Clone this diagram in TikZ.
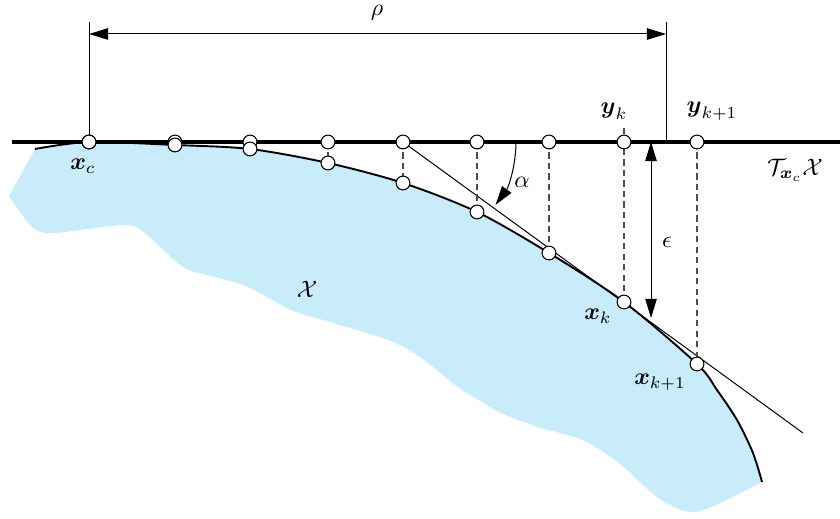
\documentclass[tikz,border=0pt]{standalone}
\usepackage{amsmath}
\usepackage{amssymb}
\usetikzlibrary{arrows.meta,backgrounds}

\definecolor{setblue}{RGB}{200,236,250}

\begin{document}
\begin{tikzpicture}[x=0.42pt,y=-0.42pt,
  pnt/.style={circle,draw=black,fill=white,line width=0.45pt,inner sep=0pt,minimum size=5.8pt},
  proj/.style={draw=black!70,dash pattern=on 2.6pt off 1.8pt,line width=0.45pt},
  rim/.style={draw=black,line width=0.8pt},
  tangline/.style={draw=black,line width=1.8pt},
  thinline/.style={draw=black,line width=0.42pt},
  dimtip/.style={{Triangle[length=8pt,width=4.8pt]}-{Triangle[length=8pt,width=4.8pt]}},
  endtip/.style={-{Triangle[length=8pt,width=4.8pt]}}]
\useasboundingbox (0,0) rectangle (840,519);
% samples on the tangent space
\foreach \n/\x in {1/89,2/175,3/250,4/328,5/403,6/477,7/549,8/624,9/697}
  \node[pnt] (t\n) at (\x,142) {};
% samples on the set
\foreach \n/\x/\y in {2/175/145,3/250/149,4/328/163,5/403/183,6/477/212,7/549/253,8/624/302,9/697/364}
  \node[pnt] (c\n) at (\x,\y) {};
\coordinate (c1) at (89,142);
% helper points
\coordinate (tl) at (12,142);
\coordinate (tr) at (840,142);
\coordinate (send) at (803,433);
\coordinate (rl) at (89,22);
\coordinate (rr) at (666,22);
\coordinate (rbase) at (666,142);
\coordinate (ra) at (89,34);
\coordinate (rb) at (666,34);
\coordinate (etop) at (651,142);
\coordinate (ebot) at (651,318);
\coordinate (astart) at (516,142);
\coordinate (ykt) at (624,128);
\begin{scope}[on background layer]
\fill[setblue] plot[smooth] coordinates {(35,149) (c1) (c2.center) (c3.center) (c4.center)
    (c5.center) (c6.center) (c7.center) (c8.center) (c9.center) (717,390) (737,420) (753,453) (762,482)}
  -- plot[smooth,tension=0.5] coordinates {(762,482) (716,505) (689,512) (657,497) (619,463)
    (582,440) (538,427) (501,413) (458,387) (420,357) (388,340) (323,320) (291,310) (248,287)
    (215,277) (183,267) (145,233) (124,225) (54,233) (32,227) (9,196)}
  -- cycle;
\draw[rim] plot[smooth] coordinates {(35,149) (c1) (c2.center) (c3.center) (c4.center)
    (c5.center) (c6.center) (c7.center) (c8.center) (c9.center) (717,390) (737,420) (753,453) (762,482)};
\draw[tangline] (tl) -- (tr);
\draw[thinline] (t5.center) -- (send);
\foreach \n in {4,5,6,7,9}
  \draw[proj] (t\n.center) -- (c\n.center);
\draw[proj] (ykt) -- (c8.center);
% rho
\draw[thinline] (t1.center) -- (rl);
\draw[thinline] (rbase) -- (rr);
\draw[thinline,dimtip] (ra) -- (rb);
% epsilon
\draw[thinline,dimtip] (etop) -- (ebot);
% alpha
\draw[thinline,endtip] (astart) arc[start angle=0,end angle=36,radius=107];
\end{scope}
\node[pnt] (t1) at (89,142) {};
% labels
\node[inner sep=1pt] (lrho) at (377,13) {$\rho$};
\node (lalpha) at (522,182) {$\alpha$};
\node (leps) at (667,242) {$\epsilon$};
\node (lxc) at (83,166) {$\boldsymbol{x}_c$};
\node (lyk) at (614,111) {$\boldsymbol{y}_k$};
\node (lyk1) at (712,111) {$\boldsymbol{y}_{k+1}$};
\node (lxk) at (598,316) {$\boldsymbol{x}_k$};
\node (lxk1) at (660,382) {$\boldsymbol{x}_{k+1}$};
\node (lset) at (307,289) {$\mathcal{X}$};
\node (ltan) at (795,170) {$\mathcal{T}_{\boldsymbol{x}_c}\mathcal{X}$};
\end{tikzpicture}
\end{document}
